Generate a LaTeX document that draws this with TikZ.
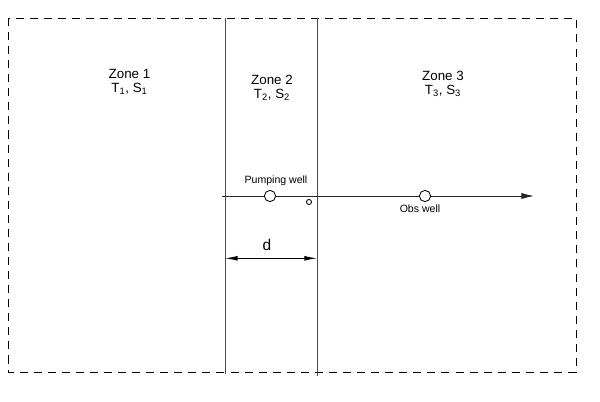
\documentclass[tikz,border=0pt]{standalone}
\usepackage{fontspec}
\setmainfont{Liberation Sans}
\usetikzlibrary{positioning, arrows.meta, calc}

\begin{document}
\begin{tikzpicture}[x=0.025cm, y=-0.025cm,
          zn/.style={align=center, inner sep=0pt,
                     font=\fontsize{9.5}{10}\selectfont},
          lbl/.style={inner sep=0pt, anchor=base, font=\fontsize{7.5}{8}\selectfont},
          bnd/.style={draw=black!70, line width=0.7pt},
          wl/.style={circle, draw, fill=white, line width=0.6pt, inner sep=0pt},
          arr/.style={-{Latex[length=9pt, width=4.5pt]}, draw=black!85, line width=0.7pt},
          dim/.style={{Latex[length=9pt, width=3.5pt]}-{Latex[length=9pt, width=3.5pt]},
                      line width=0.7pt}]
        \useasboundingbox (0,0) rectangle (600,402);
        % model domain
        \draw[line width=0.7pt, dash pattern=on 5.7pt off 4.3pt] (8,18) rectangle (576,372);
        % zone boundaries
        \coordinate (b1t) at (225,18);
        \coordinate (b1b) at (225,374);
        \coordinate (b2t) at (317,18);
        \coordinate (b2b) at (317,376);
        \draw[bnd] (b1t) -- (b1b);
        \draw[bnd] (b2t) -- (b2b);
        % zones
        \node[zn] (z1) at (129.5,82) {Zone 1\\T\textsubscript{1}, S\textsubscript{1}};
        \node[zn] (z2) at (272,88) {Zone 2\\T\textsubscript{2}, S\textsubscript{2}};
        \node[zn] (z3) at (443,84) {Zone 3\\T\textsubscript{3}, S\textsubscript{3}};
        % axis and wells
        \coordinate (a0) at (222,196);
        \coordinate (a1) at (534,196);
        \draw[arr] (a0) -- (a1);
        \node[wl, minimum size=8pt] (pw) at (270,196) {};
        \node[wl, minimum size=3.6pt] (iw) at (309,202) {};
        \node[wl, minimum size=8pt] (ow) at (425,196) {};
        \node[lbl] (pwl) at (276,183) {Pumping well};
        \node[lbl] (owl) at (420,212) {Obs well};
        % distance to boundary
        \coordinate (d1) at ($(b1t)!0.675!(b1b)$);
        \coordinate (d2) at (d1 -| b2t);
        \draw[dim] (d1) -- (d2);
        \node[inner sep=0pt, anchor=base, font=\fontsize{11}{12}\selectfont] (dl) at (267,250) {d};
      \end{tikzpicture}
\end{document}
